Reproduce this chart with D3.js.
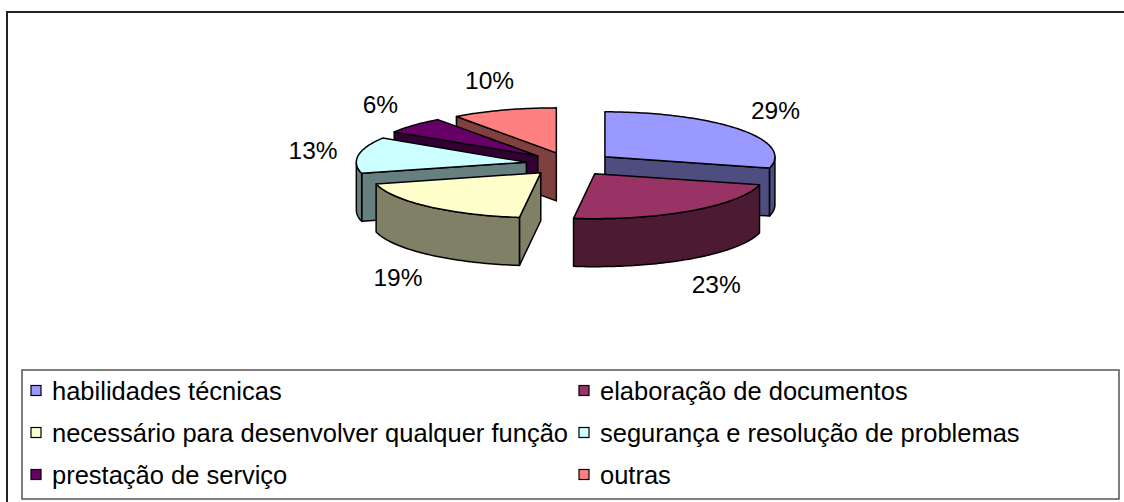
<!DOCTYPE html>
<html lang="pt-BR">
<head>
  <meta charset="UTF-8">
  <title>Pizza 3D</title>
  <script src="https://d3js.org/d3.v7.min.js"></script>
  <style>
    body { margin: 0; padding: 0; background: #fff; }
    svg { display: block; font-family: "Liberation Sans", Arial, sans-serif; }
    .face { stroke: #000; stroke-width: 1.5px; stroke-linejoin: round; }
    .rotulo { font-size: 24.5px; fill: #000; }
    .legenda text { font-size: 25.5px; fill: #000; }
  </style>
</head>
<body>
  <svg width="1124" height="502"></svg>
  <script>
    // === Dados ===
    const categorias = [
      "habilidades técnicas",
      "elaboração de documentos",
      "necessário para desenvolver qualquer função",
      "segurança e resolução de problemas",
      "prestação de serviço",
      "outras"
    ];
    const valores = [29, 23, 19, 13, 6, 10];
    const rotulos = ["29%", "23%", "19%", "13%", "6%", "10%"];
    const cores = ["#9999ff", "#993366", "#ffffcc", "#ccffff", "#660066", "#ff8080"];

    // cor da lateral = metade do brilho
    const escura = c => { const r = d3.rgb(c); return d3.rgb(r.r / 2, r.g / 2, r.b / 2).formatHex(); };

    const svg = d3.select("svg");

    // moldura externa
    svg.append("rect").attr("x", 7).attr("y", 12).attr("width", 1130).attr("height", 500)
      .attr("fill", "none").attr("stroke", "#222").attr("stroke-width", 2);

    // === Geometria da pizza ===
    const cx = 570, cy = 164, rx = 170, ry = 45, prof = 48, expl = 0.26;
    const xS = d3.scaleLinear().domain([-1, 1]).range([cx - rx, cx + rx]);
    const yS = d3.scaleLinear().domain([-1, 1]).range([cy - ry, cy + ry]);

    const pie = d3.pie().sort(null).value(d => d);
    const fatias = pie(valores).map((p, i) => {
      const m = (p.startAngle + p.endAngle) / 2;
      return { ...p, i, m, ox: expl * Math.sin(m), oy: -expl * Math.cos(m) };
    });

    // ponto na borda (r=1) ou centro (r=0) da fatia, com altura dz
    const ponto = (f, a, r, dz = 0) =>
      [xS(f.ox + r * Math.sin(a)), yS(f.oy - r * Math.cos(a)) + dz];

    const arco = (f, a0, a1, dz) => {
      const n = Math.max(2, Math.ceil((a1 - a0) / 0.02));
      return d3.range(n + 1).map(k => ponto(f, a0 + (a1 - a0) * k / n, 1, dz));
    };

    const linha = d3.line();
    const fechado = pts => linha(pts) + "Z";

    // ordem de desenho: de trás para frente
    const ordem = fatias.slice().sort((a, b) => (-Math.cos(a.m)) - (-Math.cos(b.m)));

    const gPie = svg.append("g");
    ordem.forEach(f => {
      const g = gPie.append("g");
      const lado = escura(cores[f.i]);
      const face = (a) => [ponto(f, a, 0), ponto(f, a, 1), ponto(f, a, 1, prof), ponto(f, a, 0, prof)];
      // faces radiais visíveis
      if (Math.sin(f.startAngle) < -1e-6)
        g.append("path").attr("class", "face").attr("fill", lado).attr("d", fechado(face(f.startAngle)));
      if (Math.sin(f.endAngle) > 1e-6)
        g.append("path").attr("class", "face").attr("fill", lado).attr("d", fechado(face(f.endAngle)));
      // lateral externa (metade da frente)
      const a0 = Math.max(f.startAngle, Math.PI / 2), a1 = Math.min(f.endAngle, 3 * Math.PI / 2);
      if (a1 > a0) {
        const topo = arco(f, a0, a1, 0), base = arco(f, a0, a1, prof).reverse();
        g.append("path").attr("class", "face").attr("fill", lado).attr("d", fechado(topo.concat(base)));
      }
      // topo
      g.append("path").attr("class", "face").attr("fill", cores[f.i])
        .attr("d", fechado([ponto(f, 0, 0)].concat(arco(f, f.startAngle, f.endAngle, 0))));
    });

    // rótulos de porcentagem
    svg.append("g").selectAll("text").data(fatias).join("text")
      .attr("class", "rotulo")
      .attr("text-anchor", "middle")
      .attr("dy", "0.35em")
      .attr("x", f => xS(f.ox + 1.27 * Math.sin(f.m)))
      .attr("y", f => yS(f.oy - 1.69 * Math.cos(f.m)) + (Math.cos(f.m) < 0 ? prof : 0))
      .text(f => rotulos[f.i]);

    // === Legenda ===
    svg.append("rect").attr("x", 22).attr("y", 370).attr("width", 1097).attr("height", 129)
      .attr("fill", "#fff").attr("stroke", "#555").attr("stroke-width", 1.5);

    const colX = d3.scaleOrdinal().domain([0, 1]).range([31, 579]);
    const linY = d3.scalePoint().domain([0, 1, 2]).range([391, 475]);
    const itens = svg.append("g").attr("class", "legenda").selectAll("g")
      .data(categorias).join("g")
      .attr("transform", (d, i) => `translate(${colX(i % 2)},${linY(Math.floor(i / 2))})`);
    itens.append("rect").attr("x", 0).attr("y", -5.5).attr("width", 10).attr("height", 10)
      .attr("fill", (d, i) => cores[i]).attr("stroke", "#000").attr("stroke-width", 1.2);
    itens.append("text").attr("x", 21).attr("dy", "0.35em").text(d => d);
  </script>
</body>
</html>
